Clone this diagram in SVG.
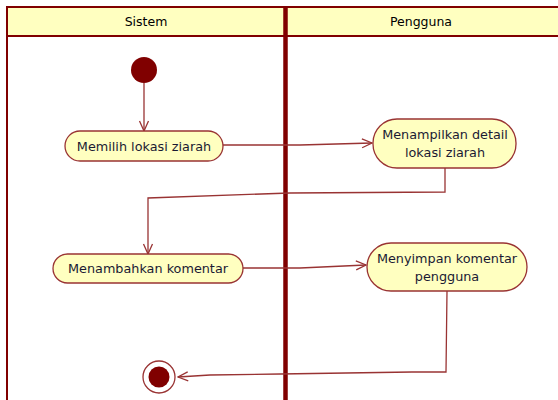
<svg xmlns="http://www.w3.org/2000/svg" width="558" height="400" viewBox="0 0 558 400">
<style>
.lane{fill:none;stroke:#800000;stroke-width:2}
.hdr{fill:#FFFFC0;stroke:#800000;stroke-width:2}
.sep{stroke:#800000;stroke-width:4.5}
.node{fill:#FFFFC0;stroke:#993333;stroke-width:1.3}
.t{font-family:"DejaVu Sans","Liberation Sans",sans-serif;font-size:12.8px;fill:#1a1a33;text-anchor:middle}
.h{font-family:"DejaVu Sans","Liberation Sans",sans-serif;font-size:12.5px;fill:#000;text-anchor:middle}
.c{fill:none;stroke:#993333;stroke-width:1.3}
</style>
<defs>
<marker id="arr" markerWidth="12" markerHeight="12" refX="11" refY="6" orient="auto" markerUnits="userSpaceOnUse">
<polyline points="1,1.5 11,6 1,10.5" fill="none" stroke="#993333" stroke-width="1.3"/>
</marker>
</defs>
<g id="swimlanes">
<rect class="hdr" x="7" y="7" width="560" height="29"/>
<line class="lane" x1="7" y1="7" x2="7" y2="400"/>
<line class="sep" x1="285.5" y1="7" x2="285.5" y2="400"/>
<text class="h" x="146" y="26">Sistem</text>
<text class="h" x="421" y="26">Pengguna</text>
</g>
<g id="connectors">
<line class="c" x1="144" y1="83" x2="144" y2="131" marker-end="url(#arr)"/>
<polyline class="c" points="223,145 300,145 372,143" marker-end="url(#arr)"/>
<polyline class="c" points="445,168 445,192 290,193 148,198 148,254" marker-end="url(#arr)"/>
<polyline class="c" points="243,268 300,268 366,265" marker-end="url(#arr)"/>
<polyline class="c" points="447,291 446,372 412,372 280,374 210,375 178,377" marker-end="url(#arr)"/>
</g>
<g id="start">
<circle cx="144" cy="70" r="13" fill="#800000"/>
</g>
<g id="memilih">
<rect class="node" x="65" y="131" width="158" height="30" rx="15"/>
<text class="t" x="144" y="150.5">Memilih lokasi ziarah</text>
</g>
<g id="menampilkan">
<rect class="node" x="373" y="119" width="143" height="49" rx="24"/>
<text class="t" x="445" y="139">Menampilkan detail</text>
<text class="t" x="445" y="157">lokasi ziarah</text>
</g>
<g id="menambahkan">
<rect class="node" x="53" y="254" width="190" height="29" rx="14.5"/>
<text class="t" x="148" y="273">Menambahkan komentar</text>
</g>
<g id="menyimpan">
<rect class="node" x="367" y="243" width="160" height="48" rx="24"/>
<text class="t" x="447" y="263">Menyimpan komentar</text>
<text class="t" x="447" y="281">pengguna</text>
</g>
<g id="end">
<circle cx="159" cy="377" r="16" fill="#fff" stroke="#993333" stroke-width="1.3"/>
<circle cx="159" cy="377" r="10.5" fill="#800000"/>
</g>
</svg>
